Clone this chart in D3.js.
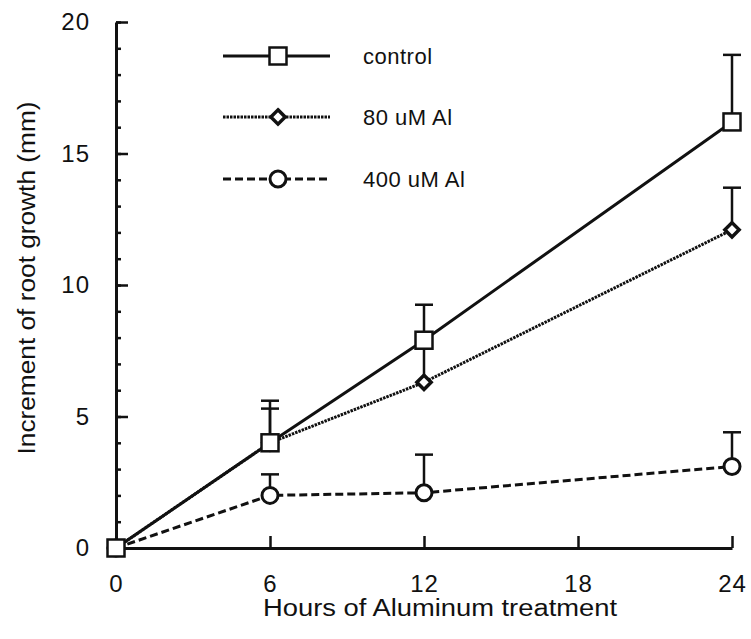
<!DOCTYPE html>
<html>
<head>
<meta charset="utf-8">
<script src="https://cdn.jsdelivr.net/npm/d3@7"></script>
<style>
  body { margin: 0; background: #fff; }
  svg { display: block; }
  text { font-family: "Liberation Sans", Arial, Helvetica, sans-serif; fill: #111; }
</style>
</head>
<body>
<svg width="751" height="639"></svg>
<script>
var hours = [0, 6, 12, 24];
var xTicks = [0, 6, 12, 18, 24];
var yTicks = [0, 5, 10, 15, 20];

var control = [0, 4.0, 7.9, 16.2];
var controlErr = [0, 1.6, 1.35, 2.55];
var al80 = [0, 4.0, 6.3, 12.1];
var al80Err = [0, 1.3, 1.3, 1.6];
var al400 = [0, 2.0, 2.1, 3.1];
var al400Err = [0, 0.8, 1.45, 1.3];

var seriesNames = ['control', '80 uM Al', '400 uM Al'];

var series = [
  { name: seriesNames[0], values: control, err: controlErr, marker: 'square', dash: null, width: 3 },
  { name: seriesNames[1], values: al80, err: al80Err, marker: 'diamond', dash: '2.5,1', width: 3 },
  { name: seriesNames[2], values: al400, err: al400Err, marker: 'circle', dash: '8,4', width: 3 }
];

var svg = d3.select("svg");

var x = d3.scaleLinear().domain([0, 24]).range([116, 732]);
var y = d3.scaleLinear().domain([0, 20]).range([548, 22]);

// minor ticks on y
svg.append("g")
  .attr("transform", "translate(" + x(0) + ",0)")
  .call(d3.axisLeft(y).tickValues(d3.range(0, 21)).tickSize(-5).tickSizeOuter(0).tickFormat(""))
  .call(function (g) { g.select(".domain").remove(); })
  .selectAll("line").attr("stroke", "#111").attr("stroke-width", 2.5);

var yAxis = svg.append("g")
  .attr("transform", "translate(" + x(0) + ",0)")
  .call(d3.axisLeft(y).tickValues(yTicks).tickSizeInner(-12).tickSizeOuter(0).tickPadding(26));
yAxis.select(".domain").attr("stroke", "#111").attr("stroke-width", 3);
yAxis.selectAll("line").attr("stroke", "#111").attr("stroke-width", 2.5);
yAxis.selectAll("text").style("font-size", "24px").attr("letter-spacing", "1px");

var xAxis = svg.append("g")
  .attr("transform", "translate(0," + y(0) + ")")
  .call(d3.axisBottom(x).tickValues(xTicks).tickSizeInner(-12).tickSizeOuter(0).tickPadding(27));
xAxis.select(".domain").attr("stroke", "#111").attr("stroke-width", 3);
xAxis.selectAll("line").attr("stroke", "#111").attr("stroke-width", 2.5);
xAxis.selectAll("text").style("font-size", "24px").attr("letter-spacing", "1px");

svg.append("text")
  .attr("x", 440).attr("y", 616)
  .attr("text-anchor", "middle")
  .style("font-size", "23px")
  .attr("textLength", 354).attr("lengthAdjust", "spacingAndGlyphs")
  .text("Hours of Aluminum treatment");

svg.append("text")
  .attr("transform", "translate(35,278) rotate(-90)")
  .attr("text-anchor", "middle")
  .style("font-size", "23px")
  .attr("textLength", 353).attr("lengthAdjust", "spacingAndGlyphs")
  .text("Increment of root growth (mm)");

function drawMarker(g, type, cx, cy) {
  if (type === 'square') {
    g.append("rect").attr("x", cx - 8.5).attr("y", cy - 8.5).attr("width", 17).attr("height", 17)
      .attr("fill", "#fff").attr("stroke", "#111").attr("stroke-width", 2.5);
  } else if (type === 'diamond') {
    g.append("path").attr("d", d3.symbol(d3.symbolDiamond2, 130)())
      .attr("transform", "translate(" + cx + "," + cy + ")")
      .attr("fill", "#fff").attr("stroke", "#111").attr("stroke-width", 3.5);
  } else {
    g.append("circle").attr("cx", cx).attr("cy", cy).attr("r", 8)
      .attr("fill", "#fff").attr("stroke", "#111").attr("stroke-width", 3);
  }
}

var line = d3.line().x(function (d) { return x(d[0]); }).y(function (d) { return y(d[1]); });

var plot = svg.append("g");

// error bars
series.forEach(function (s) {
  s.values.forEach(function (v, i) {
    if (!s.err[i]) return;
    var top = y(v + s.err[i]);
    plot.append("line").attr("x1", x(hours[i])).attr("x2", x(hours[i]))
      .attr("y1", y(v)).attr("y2", top).attr("stroke", "#111").attr("stroke-width", 2.5);
    plot.append("line").attr("x1", x(hours[i]) - 9).attr("x2", x(hours[i]) + 9)
      .attr("y1", top).attr("y2", top).attr("stroke", "#111").attr("stroke-width", 2.5);
  });
});

// lines, drawn back to front
series.slice().reverse().forEach(function (s) {
  var pts = hours.map(function (h, i) { return [h, s.values[i]]; });
  plot.append("path").datum(pts).attr("d", line)
    .attr("fill", "none").attr("stroke", "#111").attr("stroke-width", s.width)
    .attr("stroke-dasharray", s.dash);
});

series.slice().reverse().forEach(function (s) {
  s.values.forEach(function (v, i) {
    drawMarker(plot, s.marker, x(hours[i]), y(v));
  });
});

// legend
var legendY = [56, 117, 179];
var legend = svg.append("g");
series.forEach(function (s, i) {
  legend.append("line").attr("x1", 223).attr("x2", 330)
    .attr("y1", legendY[i]).attr("y2", legendY[i])
    .attr("stroke", "#111").attr("stroke-width", s.width).attr("stroke-dasharray", s.dash);
  drawMarker(legend, s.marker, 278, legendY[i]);
  legend.append("text").attr("x", 363).attr("y", legendY[i]).attr("dy", "0.35em")
    .style("font-size", "22px").attr("letter-spacing", "0.5px")
    .text(s.name);
});
</script>
</body>
</html>
